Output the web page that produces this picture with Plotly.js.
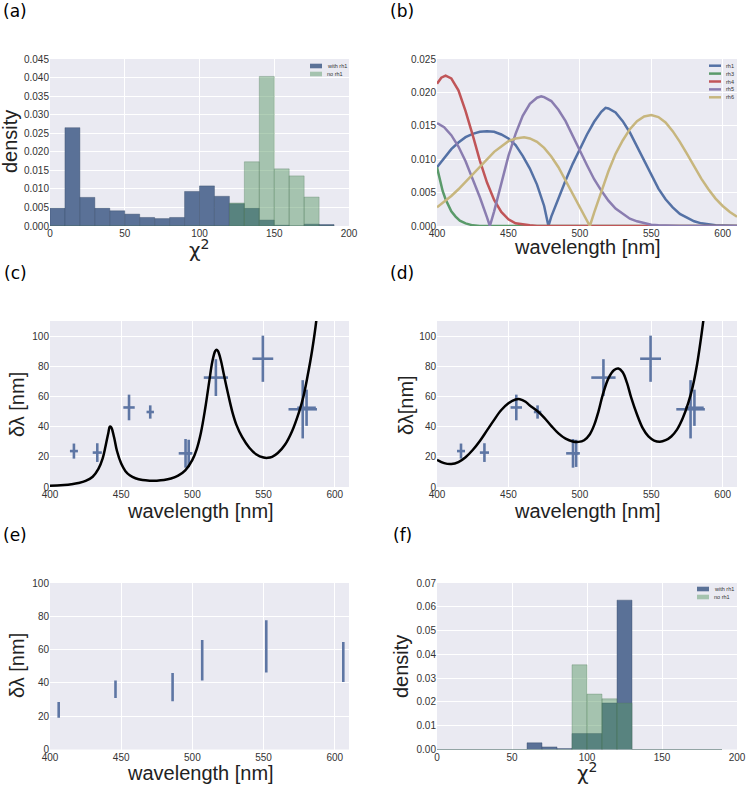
<!DOCTYPE html>
<html>
<head>
<meta charset="utf-8">
<script src="https://cdn.plot.ly/plotly-3.0.1.min.js"></script>
<style>
  html, body { margin: 0; padding: 0; background: #fff; }
  #chart { width: 747px; height: 788px; }
</style>
</head>
<body>
<div id="chart"></div>
<script>
// histogram bins (centres), chi^2
const chi2Bins = [5, 15, 25, 35, 45, 55, 65, 75, 85, 95, 105, 115, 125, 135, 145, 155, 165, 175, 185];
const aWithRh1 = [0.0048, 0.0265, 0.0077, 0.0048, 0.0041, 0.0032, 0.0023, 0.0020, 0.0023, 0.0093, 0.0108, 0.0080, 0.0060, 0.0048, 0.0016, 0.0002, 0, 0.0005, 0.0004];
const aNoRh1 = [0, 0, 0, 0, 0, 0, 0, 0, 0, 0, 0, 0, 0.0062, 0.0173, 0.0403, 0.0154, 0.0135, 0.0078, 0];
const fWithRh1 = [0, 0, 0, 0, 0, 0, 0.0028, 0.0011, 0.0004, 0.0067, 0.0067, 0.0195, 0.0628, 0, 0, 0, 0, 0, 0];
const fNoRh1 = [0, 0, 0, 0, 0, 0, 0, 0, 0, 0.0356, 0.0233, 0.0213, 0.0195, 0, 0, 0, 0, 0, 0];

// sensitivity curves (b)
const rh1Wl = [400, 405, 410, 415, 420, 425, 430, 435, 440, 445, 450, 455, 460, 465, 470, 475, 478, 480, 485, 490, 495, 500, 505, 510, 515, 518, 520, 525, 530, 535, 540, 545, 550, 555, 560, 565, 570, 575, 580, 585, 590, 595, 600, 605, 610];
const rh1 = [0.0088, 0.0102, 0.0115, 0.0125, 0.0133, 0.0138, 0.0141, 0.0142, 0.0141, 0.0137, 0.0131, 0.0121, 0.0105, 0.0086, 0.0062, 0.0030, 0, 0.0014, 0.0042, 0.0068, 0.0093, 0.0116, 0.0137, 0.0156, 0.0171, 0.0177, 0.0176, 0.0170, 0.0157, 0.0140, 0.0119, 0.0097, 0.0075, 0.0056, 0.0040, 0.0028, 0.0018, 0.0012, 0.0007, 0.0004, 0.0002, 0.0001, 0.00006, 0.00003, 0];
const rh3Wl = [400, 402, 404, 406, 408, 410, 413, 416, 420, 425, 430, 610];
const rh3 = [0.0088, 0.0068, 0.0052, 0.0040, 0.0030, 0.0022, 0.0014, 0.0008, 0.0004, 0.0001, 0, 0];
const rh4Wl = [400, 403, 406, 410, 415, 420, 425, 430, 435, 440, 445, 450, 455, 460, 465, 470, 610];
const rh4 = [0.0213, 0.0222, 0.0225, 0.0221, 0.0203, 0.0172, 0.0136, 0.0098, 0.0065, 0.0039, 0.0021, 0.0010, 0.0004, 0.0002, 0.0001, 0, 0];
const rh5Wl = [400, 405, 410, 415, 420, 425, 430, 435, 437, 440, 445, 450, 455, 460, 465, 470, 473, 475, 480, 485, 490, 495, 500, 505, 510, 515, 520, 525, 530, 535, 540, 545, 550, 555, 560, 570, 610];
const rh5 = [0.0154, 0.0148, 0.0136, 0.0119, 0.0097, 0.0071, 0.0043, 0.0013, 0, 0.0022, 0.0065, 0.0105, 0.0138, 0.0165, 0.0183, 0.0192, 0.0194, 0.0193, 0.0187, 0.0174, 0.0157, 0.0136, 0.0113, 0.0091, 0.0070, 0.0053, 0.0038, 0.0026, 0.0018, 0.0011, 0.0007, 0.0004, 0.0002, 0.0001, 0.00005, 0, 0];
const rh6Wl = [400, 405, 410, 415, 420, 425, 430, 435, 440, 445, 450, 455, 461, 465, 470, 475, 480, 485, 490, 495, 500, 505, 507, 510, 515, 520, 525, 530, 535, 540, 545, 550, 555, 560, 565, 570, 575, 580, 585, 590, 595, 600, 605, 610];
const rh6 = [0.0028, 0.0036, 0.0045, 0.0055, 0.0066, 0.0077, 0.0089, 0.0100, 0.0111, 0.0119, 0.0127, 0.0131, 0.0133, 0.0131, 0.0126, 0.0117, 0.0104, 0.0088, 0.0068, 0.0046, 0.0026, 0.0007, 0, 0.0020, 0.0052, 0.0082, 0.0108, 0.0128, 0.0145, 0.0157, 0.0164, 0.0166, 0.0163, 0.0155, 0.0142, 0.0126, 0.0108, 0.0089, 0.0071, 0.0055, 0.0041, 0.0030, 0.0021, 0.0014];

// measured peak / width (c, d)
const peakWl = [416.8, 433.2, 455.5, 470.4, 495.2, 497.4, 516.5, 549.5, 577.5, 580.2];
const peakWlErr = [2.8, 3.2, 4, 2.6, 4.8, 1.5, 8.5, 7.3, 10, 6.5];
const peakWidth = [23.8, 22.8, 52.7, 49.7, 22.3, 22.3, 72.5, 85, 51.5, 52.5];
const peakWidthErr = [5, 6.2, 8.5, 4.4, 9.5, 9, 12.2, 15.3, 19.3, 12];

const cFitWl = [400, 405, 410, 415, 420, 425, 430, 434, 437, 439, 441, 442, 443, 445, 447, 450, 453, 456, 460, 465, 470, 475, 480, 485, 490, 495, 500, 503, 506, 509, 512, 514, 516, 517, 518, 520, 522, 525, 528, 531, 535, 540, 545, 550, 553, 556, 560, 565, 570, 575, 578, 581, 584, 587, 590];
const cFit = [0.9, 1.0, 1.3, 1.8, 2.6, 4.0, 6.8, 12, 19, 27, 36, 40, 39.5, 33, 24, 15.5, 10.5, 7.8, 5.8, 4.6, 4.2, 4.2, 4.6, 5.6, 7.5, 11, 18, 25, 36, 52, 71, 83, 90, 91, 90, 84, 75, 62, 50, 41, 33, 26, 21.5, 19.5, 19.3, 20, 22.5, 28, 37, 50, 60, 74, 90, 110, 140];
const dFitWl = [400, 405, 410, 415, 420, 425, 430, 435, 440, 445, 450, 455, 458, 462, 465, 470, 475, 480, 485, 490, 495, 499, 503, 507, 510, 513, 516, 520, 524, 527, 530, 533, 536, 540, 544, 548, 552, 556, 560, 564, 568, 572, 576, 579, 582, 585, 588];
const dFit = [18, 15.8, 15.2, 16.5, 19.7, 24.5, 30.5, 37.5, 44.5, 51, 55.5, 58, 58.2, 56.5, 54, 50.5, 46, 40.5, 35.5, 32, 30.2, 29.9, 31, 35, 41, 50, 61, 72, 77.5, 78.5, 76, 69, 59, 48, 39, 33.5, 30.8, 30, 31, 33.5, 38, 45.5, 56, 66.5, 81, 100, 122];

// (e)
const eWl = [406.1, 446, 486.1, 506.9, 551.9, 606];
const eWidth = [23.8, 36.2, 37.5, 53.6, 61.9, 52.6];
const eWidthErr = [4.8, 5.2, 8.5, 12.2, 15.7, 12];

const W = 747, H = 788;
const px = x => x / W;
const py = y => 1 - y / H;

const blueBar = '#5A7197', greenBar = 'rgba(87,151,100,0.47)';
const errColor = '#5E76A4';
const curveColors = ['#5471A5', '#5A9A6A', '#C05558', '#8A7DB0', '#C7B67E'];
const tickFont = { family: 'Liberation Sans, Arial, sans-serif', size: 10, color: '#333' };
const titleFont = { family: 'Liberation Sans, Arial, sans-serif', size: 20, color: '#222' };

const cols = [[50, 349], [437, 737]];
const rows = [[59, 226], [321, 487], [583, 749.5]];

function axis(dom, range, extra) {
  return Object.assign({
    domain: dom, range, fixedrange: true,
    showgrid: true, gridcolor: '#ffffff', gridwidth: 1,
    zeroline: false, showline: false, ticks: '',
    tickfont: tickFont
  }, extra);
}
const xdom = c => [px(cols[c][0]), px(cols[c][1])];
const ydom = r => [py(rows[r][1]), py(rows[r][0])];

function bars(x, y, color, lineColor, ax) {
  return {
    type: 'bar', x, y, width: 10, xaxis: 'x' + ax, yaxis: 'y' + ax,
    marker: { color, line: { color: lineColor, width: 0.7 } },
    showlegend: false, hoverinfo: 'skip'
  };
}

function crosses(x, y, xerr, yerr, ax) {
  const t = {
    type: 'scatter', mode: 'markers', x, y, xaxis: 'x' + ax, yaxis: 'y' + ax,
    marker: { size: 1, color: 'rgba(0,0,0,0)' },
    error_y: { type: 'data', array: yerr, visible: true, thickness: 2.6, width: 0, color: errColor },
    showlegend: false, hoverinfo: 'skip'
  };
  if (xerr) t.error_x = { type: 'data', array: xerr, visible: true, thickness: 2.6, width: 0, color: errColor };
  return t;
}

function line(x, y, color, ax, shape) {
  return {
    type: 'scatter', mode: 'lines', x, y, xaxis: 'x' + ax, yaxis: 'y' + ax,
    line: { color, width: 2.5, shape: shape || 'linear' },
    showlegend: false, hoverinfo: 'skip', cliponaxis: true
  };
}

const data = [
  bars(chi2Bins, aWithRh1, blueBar, 'rgba(50,70,100,0.55)', ''),
  bars(chi2Bins, aNoRh1, greenBar, 'rgba(80,120,90,0.45)', ''),
  line(rh1Wl, rh1, curveColors[0], '2'),
  line(rh3Wl, rh3, curveColors[1], '2'),
  line(rh4Wl, rh4, curveColors[2], '2'),
  line(rh5Wl, rh5, curveColors[3], '2'),
  line(rh6Wl, rh6, curveColors[4], '2'),
  crosses(peakWl, peakWidth, peakWlErr, peakWidthErr, '3'),
  line(cFitWl, cFit, '#000', '3', 'spline'),
  crosses(peakWl, peakWidth, peakWlErr, peakWidthErr, '4'),
  line(dFitWl, dFit, '#000', '4', 'spline'),
  crosses(eWl, eWidth, null, eWidthErr, '5'),
  bars(chi2Bins, fWithRh1, blueBar, 'rgba(50,70,100,0.55)', '6'),
  bars(chi2Bins, fNoRh1, greenBar, 'rgba(80,120,90,0.45)', '6')
];

const histNames = ['with rh1', 'no rh1'];
const histColors = [blueBar, greenBar];
const curveNames = ['rh1', 'rh3', 'rh4', 'rh5', 'rh6'];

const shapes = [], annotations = [];

function legend(names, colors, x0, y0, dy, kind) {
  names.forEach((name, i) => {
    const y = y0 + i * dy;
    if (kind === 'bar') {
      shapes.push({ type: 'rect', xref: 'paper', yref: 'paper', x0: px(x0), x1: px(x0 + 12),
        y0: py(y + 2.3), y1: py(y - 2.3), fillcolor: colors[i], line: { width: 0 } });
    } else {
      shapes.push({ type: 'line', xref: 'paper', yref: 'paper', x0: px(x0), x1: px(x0 + 12),
        y0: py(y), y1: py(y), line: { color: colors[i], width: 2.5 } });
    }
    annotations.push({ xref: 'paper', yref: 'paper', x: px(x0 + 15), y: py(y), text: name,
      showarrow: false, xanchor: 'left', yanchor: 'middle',
      font: { family: 'Liberation Sans, Arial, sans-serif', size: 5.5, color: '#333' } });
  });
}
legend(histNames, histColors, 310, 66, 8, 'bar');
legend(curveNames, curveColors, 709, 65.7, 7.9, 'line');
legend(histNames, histColors, 697, 589, 8, 'bar');

function label(text, x, y, angle, font) {
  annotations.push({ xref: 'paper', yref: 'paper', x: px(x), y: py(y), text, showarrow: false,
    xanchor: 'center', yanchor: 'middle', textangle: angle || 0, font: font || titleFont });
}
const panelFont = { family: 'DejaVu Sans, sans-serif', size: 17, color: '#000' };
const chiFont = { family: 'DejaVu Sans, sans-serif', size: 20, color: '#222' };
label('(a)', 15, 11, 0, panelFont);
label('(b)', 402, 11, 0, panelFont);
label('(c)', 15, 273, 0, panelFont);
label('(d)', 402, 273, 0, panelFont);
label('(e)', 15, 535, 0, panelFont);
label('(f)', 402, 535, 0, panelFont);

label('density', 10, 142, -90);
label('χ<sup>2</sup>', 199, 249, 0, chiFont);
label('wavelength [nm]', 587, 247);
label('δλ [nm]', 17, 405, -90);
label('wavelength [nm]', 200, 511);
label('δλ[nm]', 406, 405, -90);
label('wavelength [nm]', 587, 511);
label('δλ [nm]', 17, 666, -90);
label('wavelength [nm]', 200, 773);
label('density', 401, 667, -90);
label('χ<sup>2</sup>', 587, 772, 0, chiFont);

const wlTicks = { tickvals: [400, 450, 500, 550, 600] };
const layout = {
  width: W, height: H,
  margin: { l: 0, r: 0, t: 0, b: 0 },
  paper_bgcolor: '#ffffff', plot_bgcolor: '#EAEAF2',
  barmode: 'overlay', showlegend: false,
  xaxis: axis(xdom(0), [0, 200], { anchor: 'y', dtick: 50, tick0: 0 }),
  yaxis: axis(ydom(0), [0, 0.045], { anchor: 'x', dtick: 0.005, tick0: 0, tickformat: '.3f' }),
  xaxis2: axis(xdom(1), [400, 610], Object.assign({ anchor: 'y2' }, wlTicks)),
  yaxis2: axis(ydom(0), [0, 0.025], { anchor: 'x2', dtick: 0.005, tick0: 0, tickformat: '.3f' }),
  xaxis3: axis(xdom(0), [400, 610], Object.assign({ anchor: 'y3' }, wlTicks)),
  yaxis3: axis(ydom(1), [0, 110], { anchor: 'x3', dtick: 20, tick0: 0 }),
  xaxis4: axis(xdom(1), [400, 610], Object.assign({ anchor: 'y4' }, wlTicks)),
  yaxis4: axis(ydom(1), [0, 110], { anchor: 'x4', dtick: 20, tick0: 0 }),
  xaxis5: axis(xdom(0), [400, 610], Object.assign({ anchor: 'y5' }, wlTicks)),
  yaxis5: axis(ydom(2), [0, 100], { anchor: 'x5', dtick: 20, tick0: 0 }),
  xaxis6: axis(xdom(1), [0, 200], { anchor: 'y6', dtick: 50, tick0: 0 }),
  yaxis6: axis(ydom(2), [0, 0.07], { anchor: 'x6', dtick: 0.01, tick0: 0, tickformat: '.2f' }),
  shapes, annotations
};

Plotly.newPlot('chart', data, layout, { displayModeBar: false, staticPlot: true });
</script>
</body>
</html>
